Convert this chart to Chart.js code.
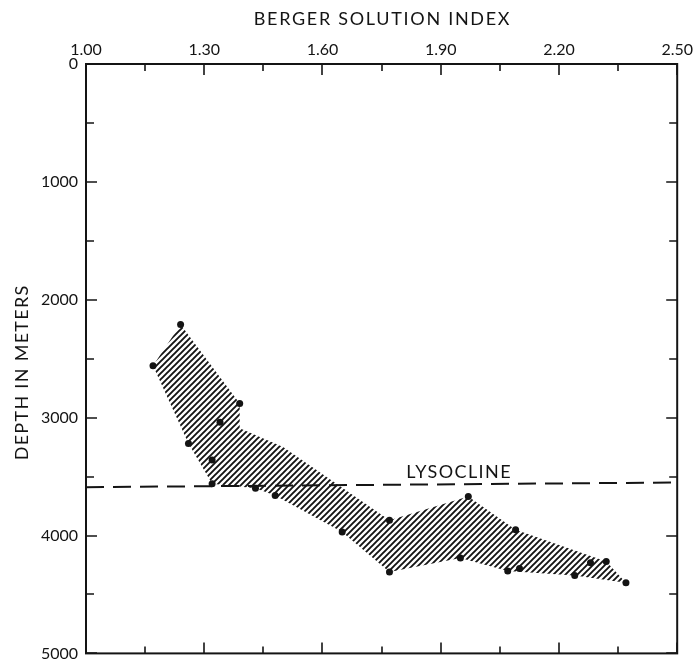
<!DOCTYPE html>
<html lang="en">

<head>
    <meta charset="UTF-8">
    <title>Berger Solution Index x Depth</title>
    <script src="https://cdn.jsdelivr.net/npm/chart.js"></script>
    <style>
        html, body { margin: 0; padding: 0; background: #fff; }
    </style>
</head>

<body>
    <canvas id="chartCanvas" width="698" height="671"></canvas>
</body>

</html>

<script>
    // samples: solution index and depth (m)
    const sampleIndex = [1.17, 1.24, 1.39, 1.34, 1.26, 1.32, 1.32, 1.43, 1.48, 1.65, 1.77,
        1.77, 1.97, 1.95, 2.09, 2.07, 2.10, 2.24, 2.28, 2.32, 2.37];
    const sampleDepth = [2560, 2210, 2880, 3040, 3220, 3360, 3560, 3600, 3660, 3970, 3870,
        4310, 3670, 4190, 3950, 4300, 4280, 4340, 4230, 4220, 4400];

    // outline of the hatched band (upper edge, then back along the lower edge)
    const bandIndex = [1.24, 1.39, 1.39, 1.50, 1.77, 1.97, 2.09, 2.32, 2.37,
        2.24, 2.07, 1.95, 1.77, 1.65, 1.48, 1.43, 1.32, 1.26, 1.17, 1.24];
    const bandDepth = [2210, 2880, 3090, 3250, 3870, 3670, 3950, 4220, 4400,
        4340, 4300, 4190, 4310, 3970, 3660, 3600, 3560, 3220, 2560, 2210];

    // lysocline
    const lysoIndex = [1.00, 2.50];
    const lysoDepth = [3590, 3550];
    const lysoLabel = 'LYSOCLINE';

    // axis ticks
    const xTicks = [1.00, 1.30, 1.60, 1.90, 2.20, 2.50];
    const xMinor = [1.15, 1.45, 1.75, 2.05, 2.35];
    const yTicks = [0, 1000, 2000, 3000, 4000, 5000];
    const yMinor = [500, 1500, 2500, 3500, 4500];

    const xTitle = 'BERGER SOLUTION INDEX';
    const yTitle = 'DEPTH IN METERS';

    const ink = '#141414';
    const fonte = 'Lato, "DejaVu Sans", sans-serif';

    function hachura() {
        // diagonal hatch tile
        let c = document.createElement('canvas');
        c.width = 6;
        c.height = 6;
        let g = c.getContext('2d');
        g.strokeStyle = ink;
        g.lineWidth = 1.9;
        g.beginPath();
        g.moveTo(0, 6); g.lineTo(6, 0);
        g.moveTo(-3, 3); g.lineTo(3, -3);
        g.moveTo(3, 9); g.lineTo(9, 3);
        g.stroke();
        return g.createPattern(c, 'repeat');
    }

    function pares(xs, ys) {
        let out = [];
        for (let i = 0; i < xs.length; i++) {
            out.push({ x: xs[i], y: ys[i] });
        }
        return out;
    }

    function texto(ctx, txt, x, y, size, spacing, rot) {
        ctx.save();
        ctx.translate(x, y);
        if (rot) ctx.rotate(rot);
        ctx.font = size + 'px ' + fonte;
        ctx.letterSpacing = spacing + 'px';
        ctx.textAlign = 'center';
        ctx.textBaseline = 'alphabetic';
        ctx.fillStyle = ink;
        ctx.fillText(txt, spacing / 2, 0);
        ctx.restore();
    }

    // frame, inward tick marks, axis titles and the lysocline label
    const moldura = {
        id: 'moldura',
        afterDatasetsDraw(chart) {
            const { ctx, chartArea: a, scales: { x, y } } = chart;
            ctx.save();
            ctx.strokeStyle = ink;
            ctx.lineWidth = 2;
            ctx.strokeRect(a.left, a.top, a.right - a.left, a.bottom - a.top);

            ctx.lineWidth = 1.6;
            ctx.beginPath();
            function tickX(v, len) {
                let px = Math.round(x.getPixelForValue(v));
                ctx.moveTo(px, a.top); ctx.lineTo(px, a.top + len);
                ctx.moveTo(px, a.bottom); ctx.lineTo(px, a.bottom - len);
            }
            function tickY(v, len) {
                let py = Math.round(y.getPixelForValue(v));
                ctx.moveTo(a.left, py); ctx.lineTo(a.left + len, py);
                ctx.moveTo(a.right, py); ctx.lineTo(a.right - len, py);
            }
            xTicks.forEach(v => tickX(v, 11));
            xMinor.forEach(v => tickX(v, 7));
            yTicks.forEach(v => tickY(v, 11));
            yMinor.forEach(v => tickY(v, 8));
            ctx.stroke();
            ctx.restore();

            texto(ctx, xTitle, (a.left + a.right) / 2, 25, 18, 1.7, 0);
            texto(ctx, yTitle, 28, 373, 18, 1.3, -Math.PI / 2);
            texto(ctx, lysoLabel, x.getPixelForValue(1.945), y.getPixelForValue(3510), 18, 1.4, 0);
        }
    };

    const config = {
        type: 'scatter',
        data: {
            datasets: [{
                label: 'band',
                data: pares(bandIndex, bandDepth),
                showLine: true,
                fill: 'shape',
                backgroundColor: hachura(),
                borderWidth: 0,
                borderColor: 'rgba(0,0,0,0)',
                pointRadius: 0,
                tension: 0,
                order: 3
            }, {
                label: 'lysocline',
                data: pares(lysoIndex, lysoDepth),
                showLine: true,
                borderColor: ink,
                borderWidth: 2,
                borderDash: [18, 9],
                pointRadius: 0,
                order: 2
            }, {
                label: 'samples',
                data: pares(sampleIndex, sampleDepth),
                backgroundColor: ink,
                borderColor: ink,
                pointRadius: 3.5,
                borderWidth: 0,
                order: 1
            }]
        },
        options: {
            responsive: false,
            animation: false,
            devicePixelRatio: 1,
            layout: { padding: { left: 0, top: 0, right: 15, bottom: 12 } },
            plugins: {
                legend: { display: false },
                tooltip: { enabled: false }
            },
            scales: {
                x: {
                    type: 'linear',
                    position: 'top',
                    min: 1.0,
                    max: 2.5,
                    afterBuildTicks: s => { s.ticks = xTicks.map(v => ({ value: v })); },
                    afterFit: s => { s.height = 64; },
                    grid: { display: false, drawTicks: false },
                    border: { display: false },
                    ticks: {
                        color: ink,
                        padding: 5,
                        maxRotation: 0,
                        autoSkip: false,
                        font: { family: fonte, size: 16 },
                        callback: v => v.toFixed(2)
                    },
                    title: { display: false }
                },
                y: {
                    type: 'linear',
                    reverse: true,
                    min: 0,
                    max: 5000,
                    afterBuildTicks: s => { s.ticks = yTicks.map(v => ({ value: v })); },
                    afterFit: s => { s.width = 86; },
                    grid: { display: false, drawTicks: false },
                    border: { display: false },
                    ticks: {
                        color: ink,
                        padding: 8,
                        font: { family: fonte, size: 16 },
                        callback: v => String(v)
                    },
                    title: { display: false }
                }
            }
        },
        plugins: [moldura]
    };

    let myChart = new Chart(document.getElementById('chartCanvas'), config);
</script>
